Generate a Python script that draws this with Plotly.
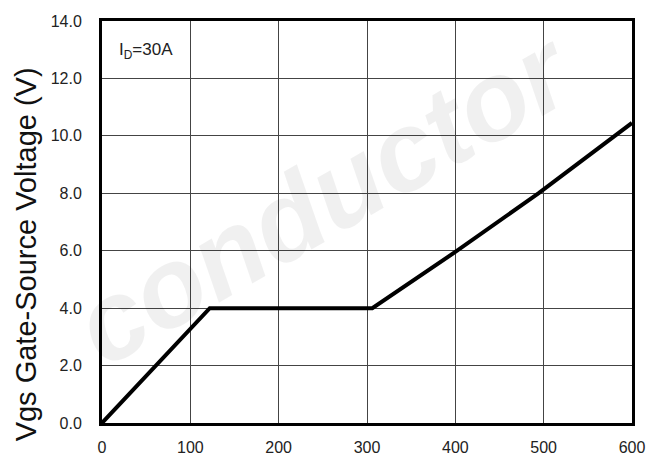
import plotly.graph_objects as go

# Data
charge_nc = [0, 122, 306, 402, 494, 580, 600]
vgs_volts = [0.0, 4.0, 4.0, 6.0, 8.0, 10.0, 10.45]

x_tick_vals = [0, 100, 200, 300, 400, 500, 600]
x_tick_text = ["0", "100", "200", "300", "400", "500", "600"]
y_tick_vals = [0, 2, 4, 6, 8, 10, 12, 14]
y_tick_text = ["0.0", "2.0", "4.0", "6.0", "8.0", "10.0", "12.0", "14.0"]

y_title = "Vgs Gate-Source Voltage (V)"
condition_label = "I<sub>D</sub>=30A"
watermark_text = "conductor"

FONT = "Liberation Sans, Arial, sans-serif"

fig = go.Figure()
fig.add_trace(go.Scatter(
    x=charge_nc, y=vgs_volts, mode="lines",
    line=dict(color="black", width=4),
    showlegend=False, hoverinfo="skip",
))

# The page body has an 8px margin, so the figure is shrunk and shifted accordingly
fig.update_layout(
    width=649, height=458,
    margin=dict(l=94, r=25, t=5, b=43),
    paper_bgcolor="white", plot_bgcolor="rgba(0,0,0,0)",
    font=dict(family=FONT, color="#222222", size=16),
    showlegend=False,
)

fig.update_xaxes(
    range=[0, 600], tickmode="array", tickvals=x_tick_vals, ticktext=x_tick_text,
    showgrid=True, gridcolor="#444444", gridwidth=1, zeroline=False,
    showline=True, linecolor="black", linewidth=3, mirror=True,
    ticks="", ticklabelstandoff=8, ticklabeloverflow="allow",
    tickfont=dict(family=FONT, size=16, color="#222222"),
)
fig.update_yaxes(
    range=[0, 14], tickmode="array", tickvals=y_tick_vals, ticktext=y_tick_text,
    showgrid=True, gridcolor="#444444", gridwidth=1, zeroline=False,
    showline=True, linecolor="black", linewidth=3, mirror=True,
    ticks="", ticklabelstandoff=14, ticklabeloverflow="allow",
    tickfont=dict(family=FONT, size=16, color="#222222"),
)

# Y-axis title as a rotated annotation (positioned like the reference)
fig.add_annotation(
    text=y_title, xref="paper", yref="paper",
    x=-0.143, y=0.42, xanchor="center", yanchor="middle", showarrow=False,
    textangle=-90, font=dict(family=FONT, size=29, color="#111111"),
)

# Watermark (faint, semi-transparent so it does not hide the plot)
fig.add_annotation(
    text="<b><i>" + watermark_text + "</i></b>", xref="paper", yref="paper",
    x=0.42, y=0.56, showarrow=False, textangle=-30,
    font=dict(family=FONT, size=112, color="rgba(0,0,0,0.06)"),
)

fig.add_annotation(
    text=condition_label, xref="paper", yref="paper",
    x=0.028, y=0.925, xanchor="left", yanchor="middle", showarrow=False,
    font=dict(family=FONT, size=17, color="#222222"),
)

fig.write_html("out.html")
